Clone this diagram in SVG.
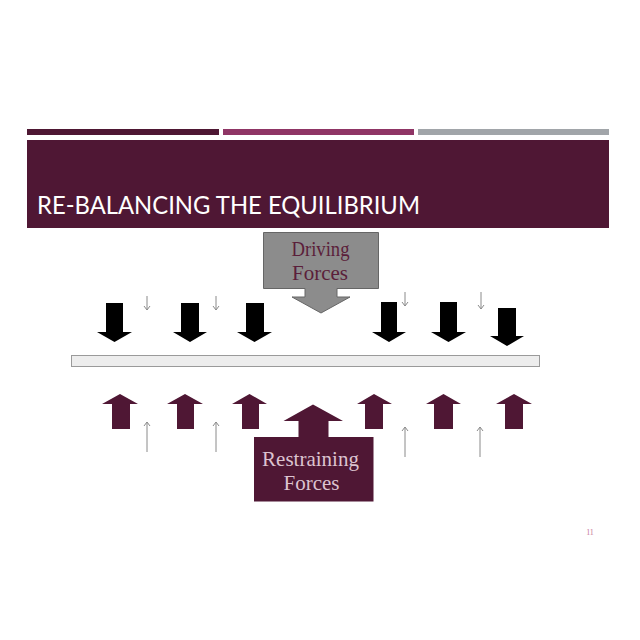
<svg xmlns="http://www.w3.org/2000/svg" width="640" height="640" viewBox="0 0 640 640">
<style>
.big-down{fill:#000000}
.big-up{fill:#4f1734}
.thin{stroke:#8a8a8a;stroke-width:1;fill:none}
.serif{font-family:"Liberation Serif","DejaVu Serif",serif}
</style>
<rect width="640" height="640" fill="#ffffff"/>
<g id="header">
<rect x="27" y="129" width="192" height="6" fill="#4e1733"/>
<rect x="223" y="129" width="191" height="6" fill="#8f3565"/>
<rect x="418" y="129" width="191" height="6" fill="#a1a5a9"/>
<rect x="27" y="140" width="582" height="88" fill="#4f1734"/>
<text x="37" y="214" font-family="Lato,'Open Sans',sans-serif" font-size="25" fill="#ffffff" textLength="383" lengthAdjust="spacingAndGlyphs">RE-BALANCING THE EQUILIBRIUM</text>
</g>
<g id="driving-forces">
<path d="M263.5,232.5 H378.5 V288.5 H337 V297 H350 L321,313 L292,297 H305 V288.5 H263.5 Z" fill="#8c8c8c" stroke="#666666" stroke-width="1"/>
<text class="serif" x="320.5" y="256" font-size="21" fill="#5b1e3a" text-anchor="middle" textLength="58" lengthAdjust="spacingAndGlyphs">Driving</text>
<text class="serif" x="320" y="280" font-size="21" fill="#5b1e3a" text-anchor="middle" textLength="56" lengthAdjust="spacingAndGlyphs">Forces</text>
</g>
<g id="equilibrium-bar">
<rect x="71.5" y="355.5" width="468" height="11" fill="#ededed" stroke="#9a9a9a" stroke-width="1"/>
</g>
<g id="restraining-forces">
<path d="M254,437 H298.5 V421 H283.5 L313,404.5 L343,421 H328.5 V437 H373.5 V501.5 H254 Z" fill="#4f1734"/>
<text class="serif" x="310.5" y="466" font-size="21" fill="#dcc3d0" text-anchor="middle">Restraining</text>
<text class="serif" x="311.5" y="490" font-size="21" fill="#dcc3d0" text-anchor="middle">Forces</text>
</g>
<g id="page-number">
<text x="590" y="535" font-family="'Liberation Serif',serif" font-size="8" fill="#c87a9a" text-anchor="middle">11</text>
</g>
<g id="connectors">
<path class="big-down" d="M106,303 H123 V332 H132 L114.5,342 L97,332 H106 Z"/>
<path class="big-down" d="M181,303 H199 V332 H207 L190,342 L173,332 H181 Z"/>
<path class="big-down" d="M246,303 H264 V332 H272 L254.5,342 L237,332 H246 Z"/>
<path class="big-down" d="M381,302 H397 V332 H406 L389,342 L372,332 H381 Z"/>
<path class="big-down" d="M440,302 H457 V332 H466 L448.5,342 L431,332 H440 Z"/>
<path class="big-down" d="M498,308 H516 V336 H524 L507,346 L490,336 H498 Z"/>
<g class="thin">
<path d="M147,296 V310 M144,306 L147,310 L150,306"/>
<path d="M216,296 V310 M213,306 L216,310 L219,306"/>
<path d="M405,292 V306 M402,302 L405,306 L408,302"/>
<path d="M481,292 V309 M478,305 L481,309 L484,305"/>
</g>
<path class="big-up" d="M112,429 V404 H102 L120,394 L138,404 H130 V429 Z"/>
<path class="big-up" d="M177,429 V404 H167 L185,394 L203,404 H194 V429 Z"/>
<path class="big-up" d="M242,429 V404 H232 L249.5,394 L267,404 H259 V429 Z"/>
<path class="big-up" d="M365,429 V404 H357 L374,394 L392,404 H383 V429 Z"/>
<path class="big-up" d="M434,429 V404 H426 L443.5,394 L461,404 H453 V429 Z"/>
<path class="big-up" d="M505,429 V404 H496 L514,394 L532,404 H523 V429 Z"/>
<g class="thin">
<path d="M147,452 V422 M144,426 L147,422 L150,426"/>
<path d="M216,452 V422 M213,426 L216,422 L219,426"/>
<path d="M405,457 V427 M402,431 L405,427 L408,431"/>
<path d="M480,457 V427 M477,431 L480,427 L483,431"/>
</g>
</g>
</svg>
